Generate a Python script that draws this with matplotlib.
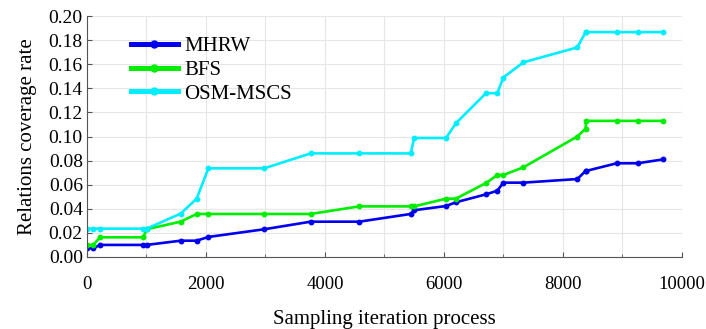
import matplotlib.pyplot as plt
from matplotlib.ticker import MultipleLocator

# sampling iteration positions (shared by all three curves)
iterations = [5, 106, 218, 947, 1003, 1575, 1843, 2040, 2980, 3760, 4577,
              5440, 5500, 6034, 6200, 6706, 6896, 6997, 7333, 8240, 8381,
              8386, 8903, 9255, 9681]

mhrw = [0.0072, 0.0072, 0.0100, 0.0100, 0.0100, 0.0135, 0.0135, 0.0166,
        0.0230, 0.0293, 0.0293, 0.0357, 0.0388, 0.0423, 0.0454, 0.0520,
        0.0550, 0.0617, 0.0617, 0.0647, 0.0714, 0.0714, 0.0778, 0.0778,
        0.0810]
bfs = [0.0100, 0.0100, 0.0163, 0.0163, 0.0230, 0.0293, 0.0357, 0.0357,
       0.0357, 0.0357, 0.0420, 0.0420, 0.0420, 0.0484, 0.0484, 0.0614,
       0.0680, 0.0680, 0.0744, 0.1000, 0.1065, 0.1130, 0.1130, 0.1130,
       0.1130]
osm_mscs = [0.0235, 0.0235, 0.0235, 0.0235, 0.0235, 0.0360, 0.0484, 0.0736,
            0.0736, 0.0860, 0.0860, 0.0860, 0.0988, 0.0988, 0.1110, 0.1360,
            0.1360, 0.1490, 0.1616, 0.1740, 0.1867, 0.1867, 0.1867, 0.1867,
            0.1867]

series = [("MHRW", mhrw, "#0000ee"), ("BFS", bfs, "#00ee00"),
          ("OSM-MSCS", osm_mscs, "#00eeff")]

plt.rcParams["font.family"] = ["Liberation Serif", "DejaVu Serif"]

fig = plt.figure(figsize=(7.06, 3.29), dpi=100)
ax = fig.add_axes([0.1232, 0.219, 0.8428, 0.732])

for name, values, color in series:
    ax.plot(iterations, values, color=color, lw=1.9, marker="o", ms=3.2,
            label=name)

ax.set_xlim(0, 10000)
ax.set_ylim(0, 0.20)
ax.xaxis.set_major_locator(MultipleLocator(2000))
ax.xaxis.set_minor_locator(MultipleLocator(1000))
ax.yaxis.set_major_locator(MultipleLocator(0.02))
ax.yaxis.set_major_formatter(lambda v, pos: f"{v:.2f}")
ax.grid(True, which="both", color="#e6e6e6", lw=0.8)
ax.set_axisbelow(True)
for side in ("top", "right"):
    ax.spines[side].set_visible(False)
for side in ("left", "bottom"):
    ax.spines[side].set_color("#555555")
ax.tick_params(which="both", direction="in", colors="#555555",
               labelcolor="black")
ax.tick_params(axis="y", labelsize=14, pad=3)
ax.tick_params(axis="x", labelsize=13.5, pad=14)
ax.set_xlabel("Sampling iteration process", fontsize=15, labelpad=12)
ax.set_ylabel("Relations coverage rate", fontsize=15, labelpad=8)

leg = ax.legend(loc="upper left", bbox_to_anchor=(0.06, 0.95), frameon=False,
                fontsize=15, handlelength=2.25, labelspacing=0.2,
                handletextpad=0.3, borderaxespad=0)
for line in leg.get_lines():
    line.set_linewidth(3.6)
    line.set_markersize(5)

fig.savefig("out.png", dpi=100)
